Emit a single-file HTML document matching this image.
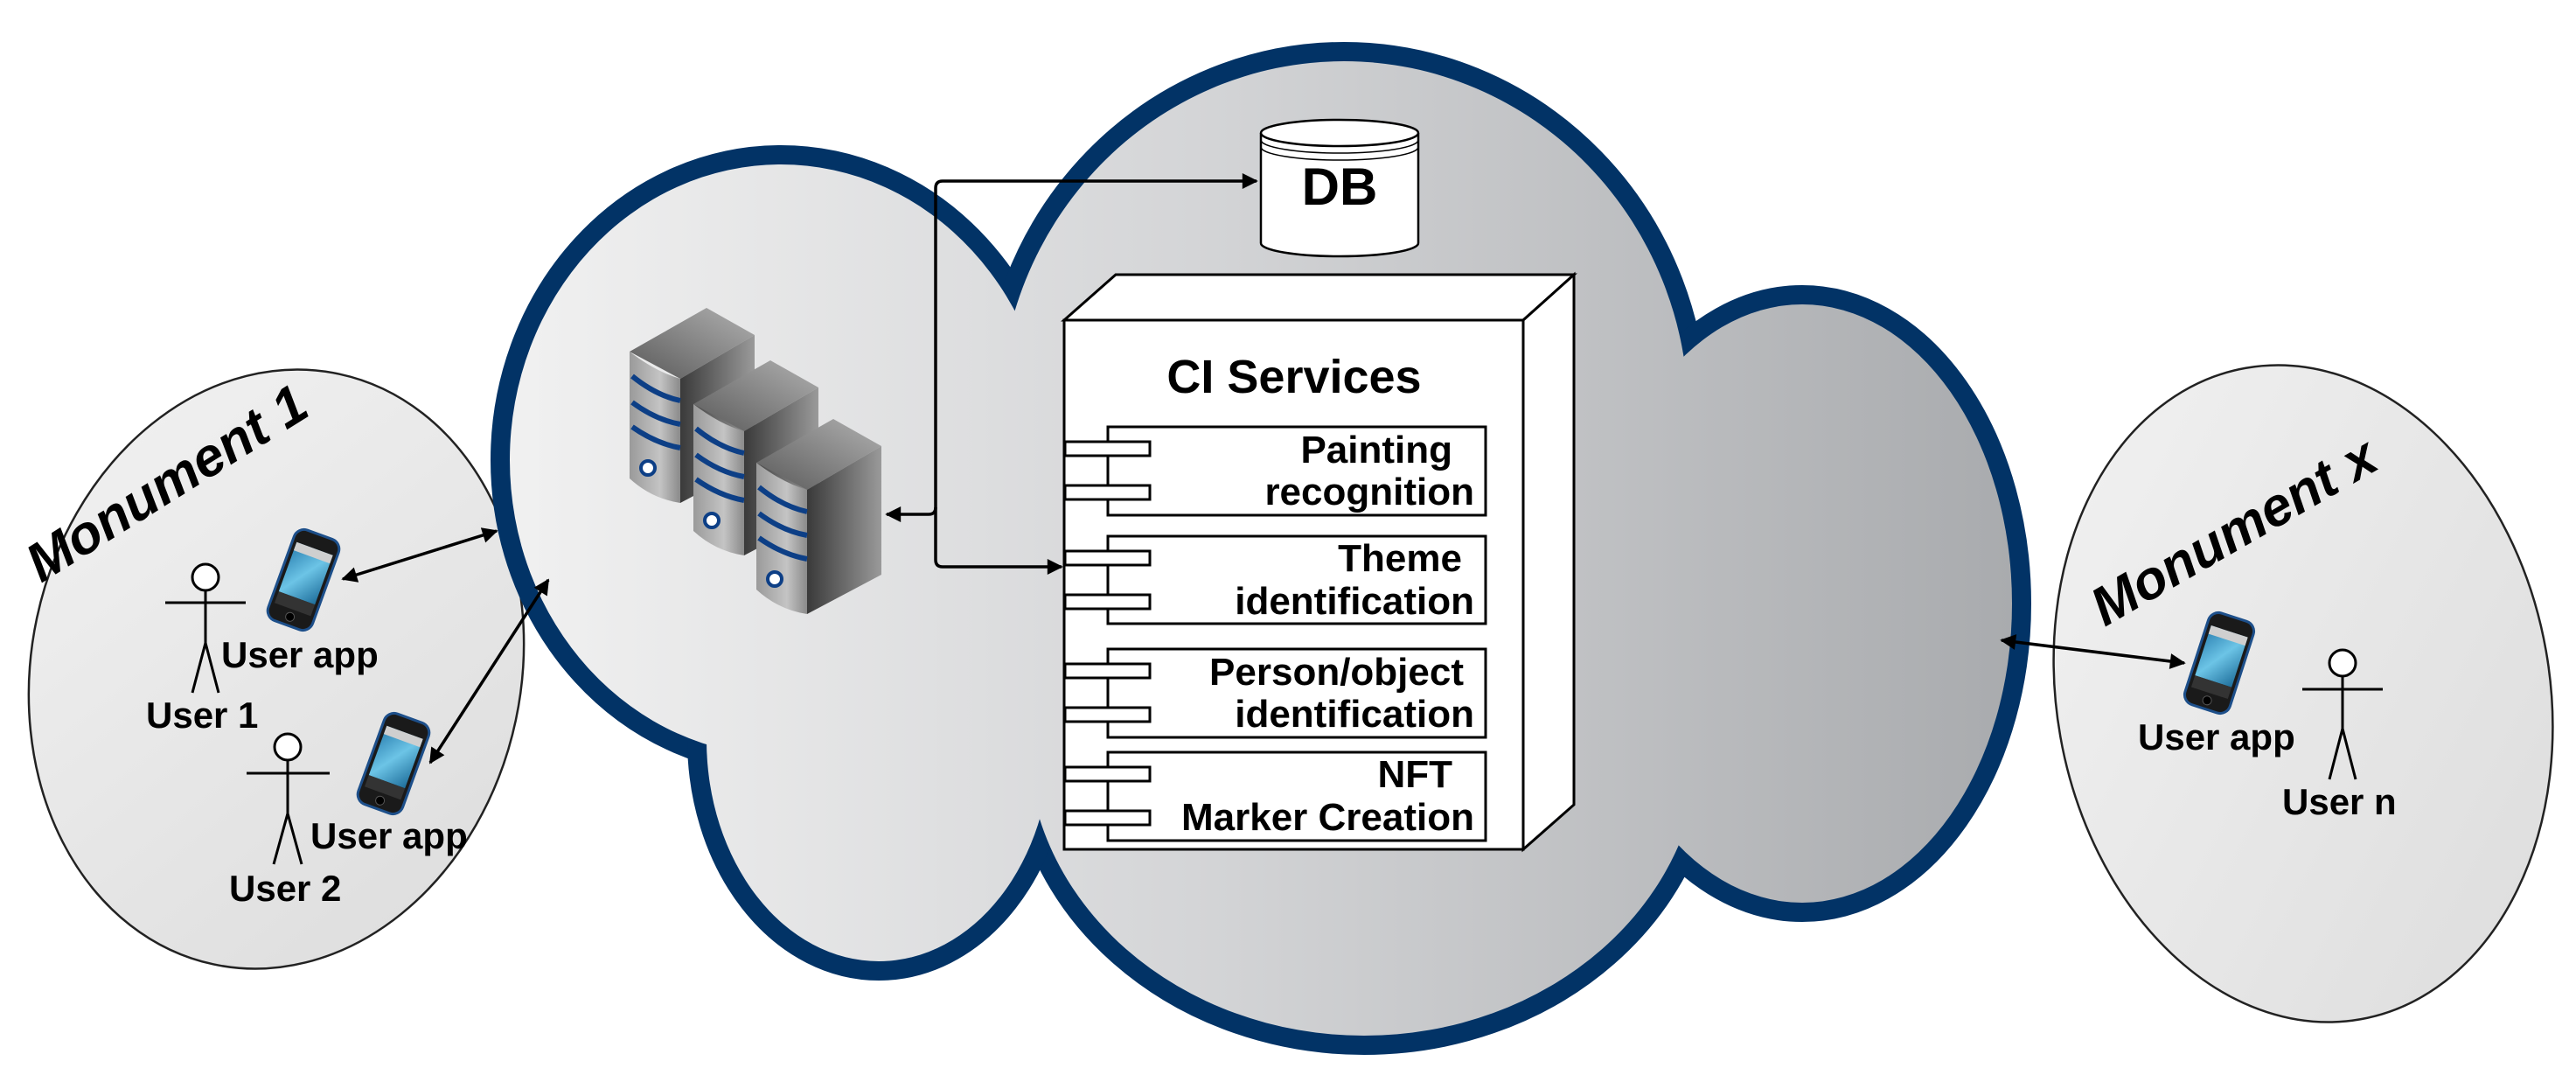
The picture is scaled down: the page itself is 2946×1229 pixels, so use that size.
<!DOCTYPE html>
<html><head><meta charset="utf-8"><style>html,body{margin:0;padding:0;background:#fff}svg{display:block}</style></head>
<body>
<svg width="2946" height="1229" viewBox="0 0 2946 1229" xmlns="http://www.w3.org/2000/svg" font-family="'Liberation Sans', Arial, sans-serif" font-weight="bold">
<defs>
<linearGradient id="cg" gradientUnits="userSpaceOnUse" x1="600" y1="0" x2="2300" y2="0">
<stop offset="0" stop-color="#f0f0f0"/><stop offset="0.45" stop-color="#d4d5d7"/><stop offset="1" stop-color="#a9abae"/>
</linearGradient>
<linearGradient id="mg" x1="0" y1="0" x2="1" y2="1"><stop offset="0" stop-color="#f2f2f2"/><stop offset="1" stop-color="#dcdcdc"/></linearGradient>
<linearGradient id="sf" x1="0" y1="0" x2="1" y2="0"><stop offset="0" stop-color="#9a9a9a"/><stop offset="0.6" stop-color="#c4c4c4"/><stop offset="1" stop-color="#8a8a8a"/></linearGradient>
<linearGradient id="st" x1="0" y1="1" x2="1" y2="0"><stop offset="0" stop-color="#5a5a5a"/><stop offset="1" stop-color="#b0b0b0"/></linearGradient>
<linearGradient id="ss" x1="0" y1="0" x2="1" y2="0"><stop offset="0" stop-color="#3a3a3a"/><stop offset="1" stop-color="#9a9a9a"/></linearGradient>
<linearGradient id="scr" x1="0" y1="0" x2="1" y2="1"><stop offset="0" stop-color="#2a7fb0"/><stop offset="0.5" stop-color="#6cc4e6"/><stop offset="1" stop-color="#1f6f9c"/></linearGradient>
<marker id="a2" viewBox="0 0 10 10" refX="9" refY="5" markerWidth="20" markerHeight="18" orient="auto-start-reverse" markerUnits="userSpaceOnUse">
<path d="M0,0 L10,5 L0,10 z" fill="#000"/></marker>
<g id="phone">
<rect x="-27" y="-55" width="54" height="110" rx="12" fill="#1a1a1a" stroke="#1d4f8a" stroke-width="3"/>
<rect x="-22" y="-38" width="44" height="60" fill="url(#scr)"/>
<rect x="-22" y="-38" width="44" height="10" fill="#cfcfcf"/>
<rect x="-22" y="22" width="44" height="14" fill="#333"/>
<circle cx="0" cy="45" r="5" fill="#000" stroke="#555"/>
</g>
<g id="server">
<polygon points="720,402 808,352 863,383 778,433" fill="url(#st)"/>
<polygon points="778,433 863,383 863,530 778,575" fill="url(#ss)"/>
<path d="M720,402 Q750,425 778,433 L778,575 Q745,570 720,547 Z" fill="url(#sf)"/>
<path d="M723,430 Q750,452 778,458 M723,460 Q750,480 778,485 M723,488 Q750,507 778,512" stroke="#0d3f86" stroke-width="6" fill="none"/>
<circle cx="741" cy="535" r="8" fill="#fff" stroke="#0d3f86" stroke-width="4"/>
</g>
</defs>

<!-- Monuments -->
<ellipse cx="316" cy="765" rx="280" ry="345" transform="rotate(12 316 765)" fill="url(#mg)" stroke="#222" stroke-width="2.5"/>
<ellipse cx="2634" cy="793" rx="282" ry="378" transform="rotate(-10 2634 793)" fill="url(#mg)" stroke="#222" stroke-width="2.5"/>

<!-- Cloud -->
<g stroke="#023366" stroke-width="44" fill="#023366">
<ellipse cx="893" cy="526" rx="310" ry="338"/>
<ellipse cx="1537" cy="475" rx="394" ry="405"/>
<ellipse cx="2061" cy="690" rx="240" ry="342"/>
<ellipse cx="1560" cy="846" rx="385" ry="338"/>
<ellipse cx="1005" cy="846" rx="197" ry="253"/>
</g>
<g fill="url(#cg)">
<ellipse cx="893" cy="526" rx="310" ry="338"/>
<ellipse cx="1537" cy="475" rx="394" ry="405"/>
<ellipse cx="2061" cy="690" rx="240" ry="342"/>
<ellipse cx="1560" cy="846" rx="385" ry="338"/>
<ellipse cx="1005" cy="846" rx="197" ry="253"/>
<rect x="900" y="450" width="1200" height="420"/>
</g>

<!-- Servers -->
<use href="#server"/>
<use href="#server" transform="translate(73,60)"/>
<use href="#server" transform="translate(145,127)"/>

<!-- DB -->
<path d="M1442,152 L1442,278 A90,15 0 0 0 1622,278 L1622,152" fill="#fff" stroke="#000" stroke-width="2.5"/>
<ellipse cx="1532" cy="152" rx="90" ry="15" fill="#fff" stroke="#000" stroke-width="2.5"/>
<path d="M1442,160 A90,15 0 0 0 1622,160 M1442,168 A90,15 0 0 0 1622,168" fill="none" stroke="#000" stroke-width="1.5"/>
<text x="1532" y="234" font-size="60" text-anchor="middle">DB</text>

<!-- CI box -->
<polygon points="1217,366 1276,314 1800,314 1742,366" fill="#fff" stroke="#000" stroke-width="3"/>
<polygon points="1742,366 1800,314 1800,920 1742,971" fill="#fff" stroke="#000" stroke-width="3"/>
<rect x="1217" y="366" width="525" height="605" fill="#fff" stroke="#000" stroke-width="3"/>
<text x="1480" y="449" font-size="54" text-anchor="middle">CI Services</text>
<g fill="#fff" stroke="#000" stroke-width="3">
<rect x="1267" y="488" width="432" height="101"/>
<rect x="1267" y="613" width="432" height="100"/>
<rect x="1267" y="742" width="432" height="101"/>
<rect x="1267" y="860" width="432" height="101"/>
<rect x="1218" y="505" width="97" height="16"/><rect x="1218" y="555" width="97" height="16"/>
<rect x="1218" y="630" width="97" height="16"/><rect x="1218" y="680" width="97" height="16"/>
<rect x="1218" y="759" width="97" height="16"/><rect x="1218" y="809" width="97" height="16"/>
<rect x="1218" y="877" width="97" height="16"/><rect x="1218" y="927" width="97" height="16"/>
</g>
<g font-size="44" text-anchor="end">
<text x="1661" y="529">Painting</text><text x="1686" y="577">recognition</text>
<text x="1672" y="653">Theme</text><text x="1686" y="702">identification</text>
<text x="1674" y="783">Person/object</text><text x="1686" y="831">identification</text>
<text x="1661" y="900">NFT</text><text x="1686" y="949">Marker Creation</text>
</g>

<!-- connectors -->
<path d="M1078,207 L1437,207" fill="none" stroke="#000" stroke-width="3.5" marker-end="url(#a2)"/>
<path d="M1078,207 Q1070,207 1070,215 L1070,640 Q1070,648 1078,648 L1214,648" fill="none" stroke="#000" stroke-width="3.5" marker-end="url(#a2)"/>
<path d="M1070,580 Q1070,588 1062,588 L1014,588" fill="none" stroke="#000" stroke-width="3.5" marker-end="url(#a2)"/>
<line x1="392" y1="662" x2="568" y2="607" stroke="#000" stroke-width="3.5" marker-start="url(#a2)" marker-end="url(#a2)"/>
<line x1="492" y1="872" x2="627" y2="663" stroke="#000" stroke-width="3.5" marker-start="url(#a2)" marker-end="url(#a2)"/>
<line x1="2289" y1="732" x2="2498" y2="758" stroke="#000" stroke-width="3.5" marker-start="url(#a2)" marker-end="url(#a2)"/>

<!-- phones -->
<use href="#phone" transform="translate(347,663) rotate(20)"/>
<use href="#phone" transform="translate(450,873) rotate(20)"/>
<use href="#phone" transform="translate(2538,758) rotate(18)"/>

<!-- stick figures -->
<g stroke="#000" stroke-width="3" fill="#fff">
<circle cx="235" cy="660" r="15"/><path d="M189,689 L281,689 M235,675 L235,735 L220,792 M235,735 L250,792" fill="none"/>
<circle cx="329" cy="854" r="15"/><path d="M282,884 L377,884 M329,869 L329,930 L313,988 M329,930 L345,988" fill="none"/>
<circle cx="2679" cy="758" r="15"/><path d="M2633,788 L2725,788 M2679,773 L2679,833 L2664,891 M2679,833 L2694,891" fill="none"/>
</g>

<g font-size="42">
<text x="253" y="763">User app</text>
<text x="167" y="832">User 1</text>
<text x="355" y="970">User app</text>
<text x="262" y="1030">User 2</text>
<text x="2445" y="857">User app</text>
<text x="2610" y="931">User n</text>
</g>
<text x="47" y="667" font-size="62" font-style="italic" transform="rotate(-32 47 667)">Monument 1</text>
<text x="2407" y="717" font-size="62" font-style="italic" transform="rotate(-30 2407 717)">Monument x</text>
</svg>
</body></html>
